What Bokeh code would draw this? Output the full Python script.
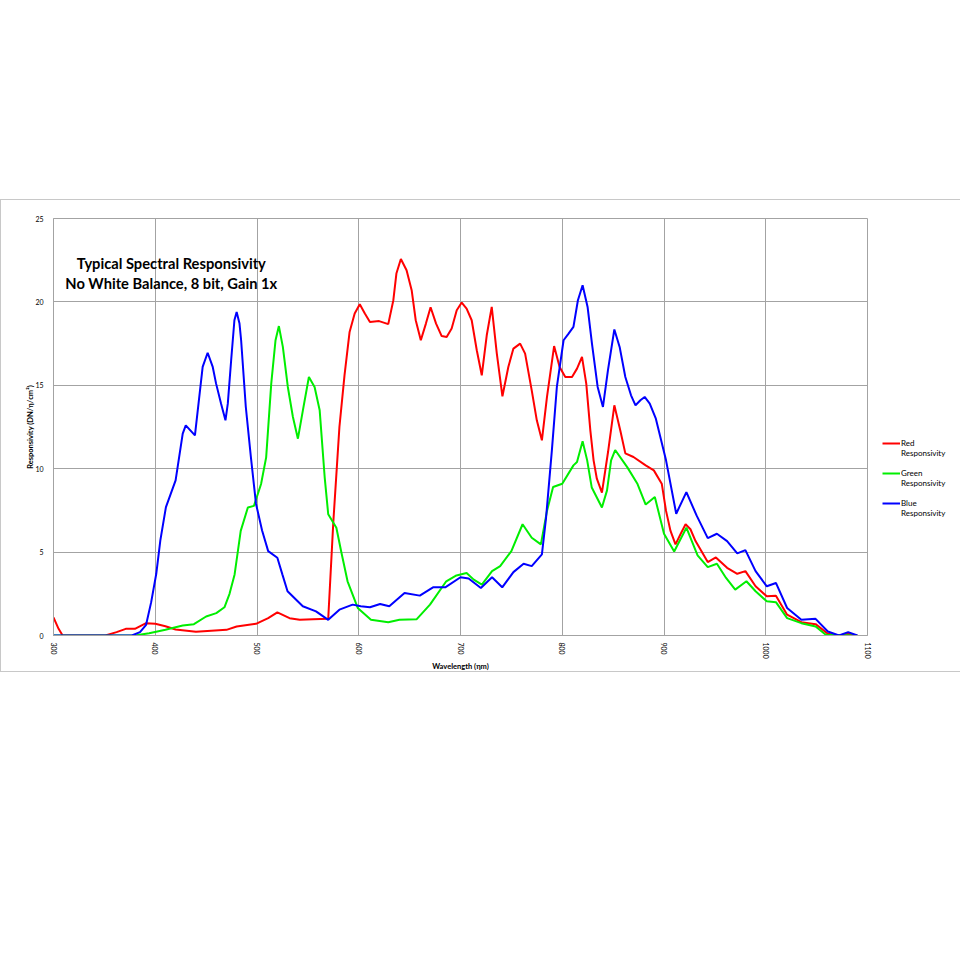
from bokeh.plotting import figure, ColumnDataSource
from bokeh.models import Range1d, Legend, LegendItem, Label, FixedTicker, Spacer
from bokeh.layouts import column
from bokeh.embed import file_html
from bokeh.resources import INLINE
import math

# Wavelength (nm) / responsivity
red_nm = [300, 305, 309, 351, 362, 371, 380, 391, 400, 410, 420, 440, 455, 470, 480,
          499, 511, 520, 532, 542, 555, 570, 575, 581, 586, 591, 596, 601, 606, 611,
          620, 629, 634, 637, 641.4, 647, 652, 656, 661, 666, 670.6, 676, 681.5, 686.4, 691.3,
          696.3, 701.2, 706, 711, 716, 720.9, 725.8, 730.7, 735.7, 741.2, 747, 752, 758.6, 763.5,
          770, 775, 780, 785, 792, 797.4, 803, 809.6, 814.5, 819.4, 823.6, 827.6, 830.8, 834,
          839, 845, 851.2, 857, 862, 870, 882, 890, 897.8, 902, 906.4, 911.3, 916.2, 921.2,
          926, 931, 943, 951, 962, 972, 980, 990, 1001, 1010, 1021, 1035, 1049,
          1061, 1072, 1081, 1090]
red_val = [1.08, 0.4, 0.0, 0.0, 0.2, 0.4, 0.4, 0.74, 0.7, 0.55, 0.36, 0.22, 0.28, 0.34, 0.54,
           0.7, 1.04, 1.39, 1.04, 0.94, 0.98, 1.0, 6.8, 12.5, 15.6, 18.2, 19.3, 19.86, 19.3, 18.8,
           18.85, 18.67, 20.1, 21.7, 22.57, 21.9, 20.7, 18.9, 17.7, 18.7, 19.68, 18.7, 17.95, 17.9, 18.4,
           19.5, 19.96, 19.6, 18.9, 17.1, 15.6, 18.0, 19.7, 16.9, 14.34, 16.1, 17.2, 17.5, 16.9,
           14.7, 12.9, 11.7, 14.3, 17.35, 16.1, 15.5, 15.5, 16.0, 16.7, 15.1, 12.3, 10.5, 9.4,
           8.57, 11.0, 13.8, 12.3, 10.92, 10.7, 10.2, 9.9, 9.1, 7.47, 6.27, 5.46, 6.07, 6.67,
           6.37, 5.66, 4.4, 4.68, 4.06, 3.7, 3.86, 2.95, 2.35, 2.39, 1.25, 0.8, 0.68,
           0.1, 0.0, 0.1, 0.0]

green_nm = [300, 380, 394, 410, 427, 438, 450, 460, 468, 473, 478, 484, 491, 497, 504,
            509, 514, 518.2, 521.5, 525.4, 530.3, 535.3, 540.2, 545.1, 551, 556.6, 561.6, 566.5, 570, 578,
            583, 589, 599, 612, 629, 640, 657, 670, 686, 696, 706, 713, 721, 731, 739,
            750, 761, 770, 779, 785, 791, 800, 811, 814.5, 820, 824.5, 829, 839, 844, 848,
            852, 864, 874, 882, 891, 900, 910, 922, 933, 943, 952, 961, 970, 981, 990,
            1001, 1010, 1021, 1035, 1049, 1059, 1090]
green_val = [0.0, 0.0, 0.14, 0.34, 0.6, 0.68, 1.14, 1.34, 1.69, 2.5, 3.66, 6.27, 7.67, 7.77, 9.08,
             10.68, 15.1, 17.7, 18.55, 17.3, 14.9, 13.1, 11.8, 13.5, 15.5, 14.9, 13.5, 9.5, 7.27, 6.46,
             4.96, 3.25, 1.65, 0.94, 0.8, 0.94, 0.98, 1.85, 3.25, 3.6, 3.75, 3.35, 3.05, 3.86, 4.16,
             5.06, 6.67, 5.86, 5.46, 7.47, 8.9, 9.1, 10.2, 10.4, 11.65, 10.5, 8.87, 7.67, 8.7, 10.5,
             11.12, 10.08, 9.08, 7.85, 8.3, 6.1, 5.04, 6.46, 4.8, 4.1, 4.3, 3.45, 2.75, 3.25, 2.65,
             2.05, 2.0, 1.04, 0.74, 0.54, 0.04, 0.0]

blue_nm = [300, 377, 385, 391, 396, 401, 405, 410.5, 420, 427, 430, 439, 446.6, 451.5, 456.5,
           459.8, 464.7, 469, 471.3, 474.6, 477.8, 480, 482.8, 484.4, 489, 494, 499, 505, 511,
           520, 525, 530, 545, 558, 570, 581, 594, 602, 611, 621, 630, 645, 660, 673, 685,
           700, 708, 720, 731, 741, 752, 762, 770, 780, 784, 789.8, 794.7, 801.3, 806.2, 811,
           815.4, 820, 824.9, 829.2, 834.8, 840, 844.9, 851.2, 856.4, 862, 867.6, 872, 876.8, 881, 886,
           892, 902, 912, 922, 932, 943, 952, 962, 972, 980, 990, 1001, 1010, 1021, 1035, 1049,
           1061, 1072, 1081, 1090]
blue_val = [0.0, 0.0, 0.2, 0.64, 2.0, 3.7, 5.7, 7.7, 9.3, 12.1, 12.6, 12.0, 16.1, 16.95, 16.1,
            15.1, 13.9, 12.9, 13.9, 16.5, 18.9, 19.4, 18.7, 17.7, 13.7, 10.7, 7.9, 6.3, 5.06,
            4.66, 3.65, 2.65, 1.75, 1.45, 0.94, 1.55, 1.85, 1.75, 1.69, 1.89, 1.75, 2.55, 2.39, 2.89, 2.89,
            3.49, 3.42, 2.85, 3.49, 2.89, 3.8, 4.3, 4.16, 4.86, 7.0, 11.1, 14.9, 17.7, 18.1, 18.5,
            20.1, 21.0, 19.7, 17.5, 14.9, 13.7, 15.9, 18.35, 17.3, 15.5, 14.4, 13.8, 14.1, 14.3, 13.9,
            13.0, 10.5, 7.3, 8.6, 7.2, 5.84, 6.1, 5.66, 4.92, 5.12, 3.86, 2.95, 3.15, 1.65, 0.94, 1.0,
            0.24, 0.0, 0.2, 0.0]

x_ticks = [300, 400, 500, 600, 700, 800, 900, 1000, 1100]
y_ticks = [0, 5, 10, 15, 20, 25]

FONT = "Lato"
GRID = "#a3a3a3"

p = figure(frame_width=812, frame_height=415,
           x_range=Range1d(300, 1100), y_range=Range1d(0, 25),
           output_backend="svg", toolbar_location=None,
           min_border_left=52, min_border_right=92,
           min_border_top=18, min_border_bottom=38)
p.styles = {"border": "1px solid #c8c8c8"}
p.outline_line_color = GRID

# Grid / axes
p.xaxis.ticker = FixedTicker(ticks=x_ticks)
p.yaxis.ticker = FixedTicker(ticks=y_ticks)
p.xgrid.grid_line_color = GRID
p.ygrid.grid_line_color = GRID
for ax in (p.xaxis[0], p.yaxis[0]):
    ax.axis_line_color = GRID
    ax.major_tick_line_color = None
    ax.minor_tick_line_color = None
    ax.major_label_text_font = FONT
    ax.major_label_text_font_size = "7px"
    ax.major_label_text_color = "black"
    ax.axis_label_text_font = FONT
    ax.axis_label_text_font_size = "7.5px"
    ax.axis_label_text_font_style = "bold"
    ax.axis_label_text_color = "black"
p.xaxis.major_label_orientation = -math.pi / 2
p.xaxis.major_label_standoff = 1
p.yaxis.major_label_standoff = 4
p.xaxis.axis_label = "Wavelength (\u03b7m)"
p.yaxis.axis_label = "Responsivity (DN/\u03b7/cm\u00b2)"
p.xaxis.axis_label_standoff = 0
p.yaxis.axis_label_standoff = -3

# Curves
r_red = p.line('x', 'y', source=ColumnDataSource(dict(x=red_nm, y=red_val)),
               line_color="#ff0000", line_width=2)
r_green = p.line('x', 'y', source=ColumnDataSource(dict(x=green_nm, y=green_val)),
                 line_color="#00ee00", line_width=2)
r_blue = p.line('x', 'y', source=ColumnDataSource(dict(x=blue_nm, y=blue_val)),
                line_color="#0000ff", line_width=2)

# Legend in the right-hand panel; the blank first line keeps the
# line sample level with the colour name
items = [LegendItem(label=" \n" + name + "\nResponsivity", renderers=[rend])
         for name, rend in [("Red", r_red), ("Green", r_green), ("Blue", r_blue)]]
legend = Legend(items=items, location=(15, 117), orientation="vertical",
                padding=0, margin=0, spacing=0, label_standoff=1,
                glyph_width=18, glyph_height=12,
                label_text_font=FONT, label_text_font_size="8px",
                label_text_color="black", label_text_line_height=1.6,
                border_line_color=None, background_fill_alpha=0)
p.add_layout(legend, "right")

# Chart title inside the plot area
for yv, txt in [(22.35, "Typical Spectral Responsivity"),
                (21.14, "No White Balance, 8 bit, Gain 1x")]:
    p.add_layout(Label(x=415.8, y=yv, text=txt, text_font=FONT,
                       text_font_size="14.7px", text_font_style="bold",
                       text_color="black",
                       text_align="center", text_baseline="middle"))

layout = column(Spacer(width=958, height=199), p)
open("out.html", "w").write(file_html(layout, INLINE))
